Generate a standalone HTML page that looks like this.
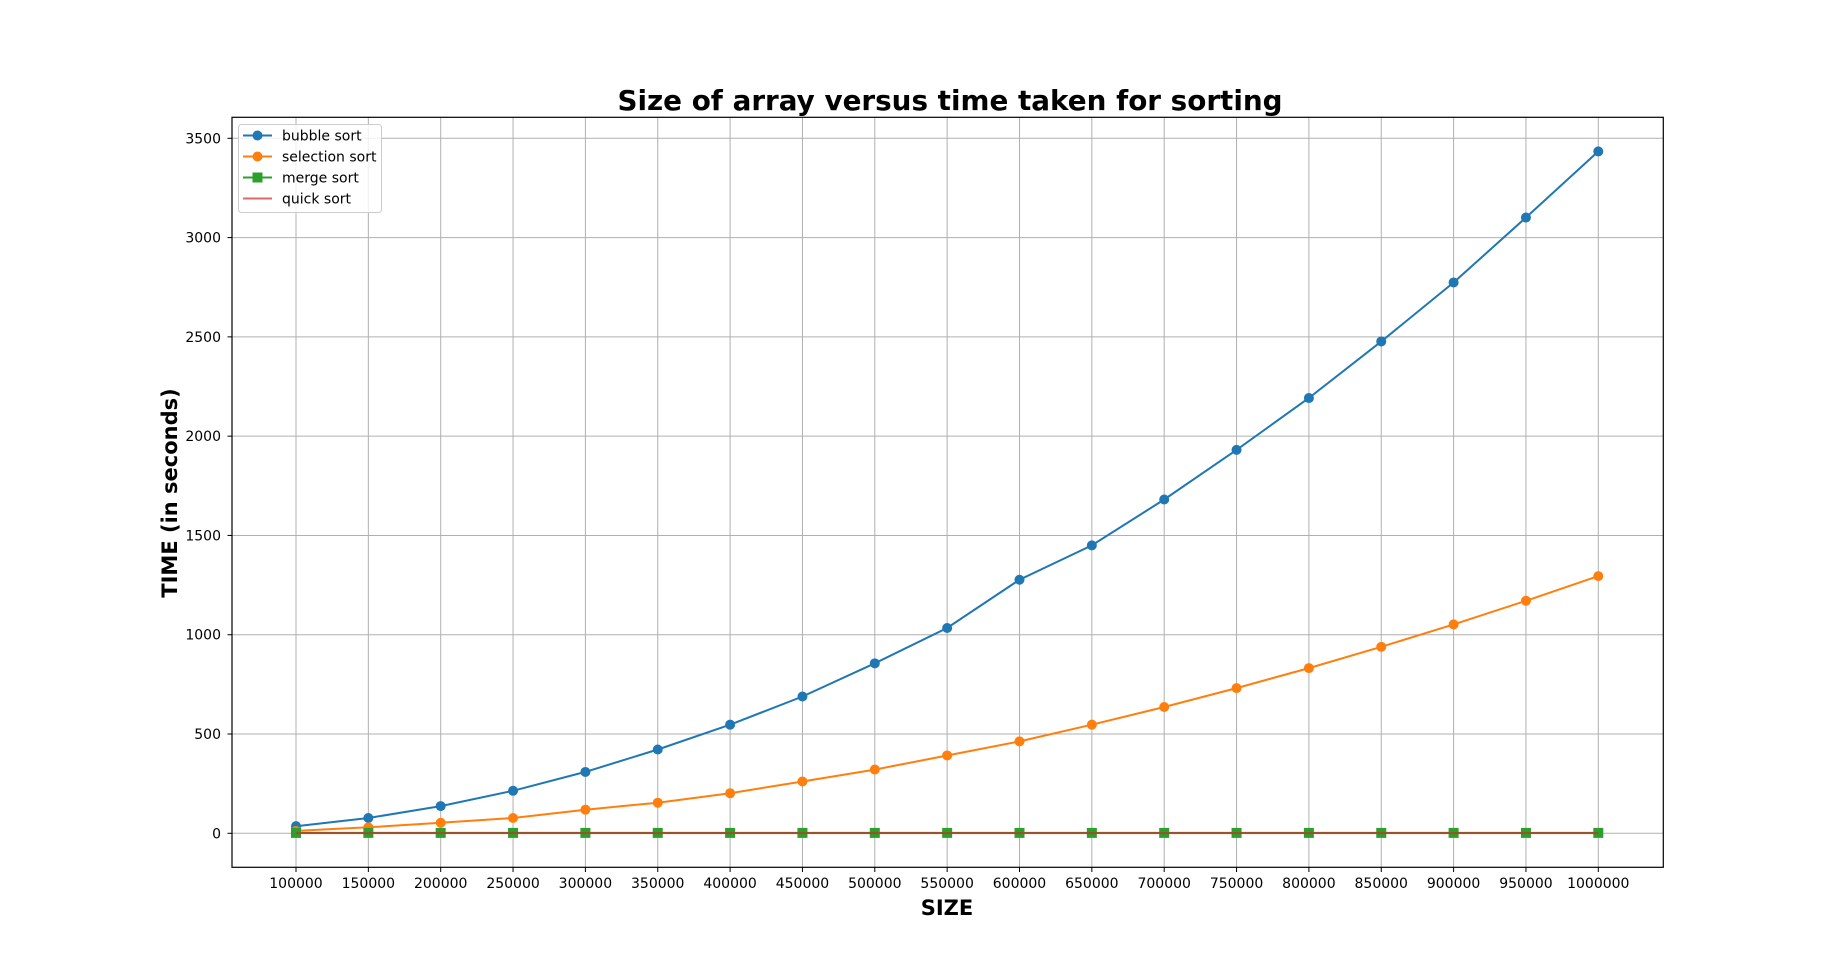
<!DOCTYPE html>
<html><head><meta charset="utf-8"><style>
html,body{margin:0;padding:0;background:#fff;}
svg{display:block;font-family:"DejaVu Sans","Liberation Sans",sans-serif;}
</style></head><body>
<svg id="chart" width="1848" height="974" viewBox="0 0 1848 974">
<rect x="0" y="0" width="1848" height="974" fill="#fff"/>
<g id="grid"></g>
<g id="series"></g>
<rect x="232" y="117.3" width="1431.3" height="750" fill="none" stroke="#000" stroke-width="1.2"/>
<g id="xticks"></g>
<g id="yticks"></g>
<text x="950" y="110" text-anchor="middle" font-size="27.8" font-weight="bold">Size of array versus time taken for sorting</text>
<text x="947" y="915" text-anchor="middle" font-size="21" font-weight="bold">SIZE</text>
<text x="0" y="0" transform="translate(177,493) rotate(-90)" text-anchor="middle" font-size="21" font-weight="bold">TIME (in seconds)</text>
<g>
<rect x="238.5" y="124.5" width="143" height="88" rx="3" fill="#fff" fill-opacity="0.8" stroke="#ccc"/>
<g><line x1="243" y1="135.5" x2="272" y2="135.5" stroke="#1f77b4" stroke-width="2"/><circle cx="257.5" cy="135.5" r="5" fill="#1f77b4"/><text x="282" y="140.5" font-size="14">bubble sort</text></g>
<g><line x1="243" y1="156.5" x2="272" y2="156.5" stroke="#ff7f0e" stroke-width="2"/><circle cx="257.5" cy="156.5" r="5" fill="#ff7f0e"/><text x="282" y="161.5" font-size="14">selection sort</text></g>
<g><line x1="243" y1="177.5" x2="272" y2="177.5" stroke="#2ca02c" stroke-width="2"/><rect x="252.5" y="172.5" width="10" height="10" fill="#2ca02c"/><text x="282" y="182.5" font-size="14">merge sort</text></g>
<g><line x1="243" y1="198.5" x2="272" y2="198.5" stroke="#d62728" stroke-opacity="0.7" stroke-width="2"/><text x="282" y="203.5" font-size="14">quick sort</text></g>
</g>
</svg>
<script>
const sizes = [100000,150000,200000,250000,300000,350000,400000,450000,500000,550000,600000,650000,700000,750000,800000,850000,900000,950000,1000000];
const bubble = [36,77,137,214,309,422,547,689,856,1034,1277,1450,1681,1931,2192,2477,2774,3101,3434];
const selection = [12,30,53,77,119,154,202,261,321,392,463,547,636,731,832,939,1052,1171,1295];
const merge = [2,2,2,2,2,2,2,2,2,2,2,2,2,2,2,2,2,2,2];
const quick = [1,1,1,1,1,1,1,1,1,1,1,1,1,1,1,1,1,1,1];
const yTicks = [0,500,1000,1500,2000,2500,3000,3500];

const NS = "http://www.w3.org/2000/svg";
const X = v => 296 + (v - 100000) * (1598.3 - 296) / 900000;
const Y = v => 833.3 - v * (833.3 - 138.3) / 3500;
function mk(tag, attrs, parent) {
  const e = document.createElementNS(NS, tag);
  for (const k in attrs) e.setAttribute(k, attrs[k]);
  parent.appendChild(e);
  return e;
}
const grid = document.getElementById('grid');
const xt = document.getElementById('xticks');
const yt = document.getElementById('yticks');
sizes.forEach(s => {
  const gl = mk('line', {x1:X(s), x2:X(s), y1:117.3, y2:867.3, stroke:'#b0b0b0', 'stroke-width':1}, grid);
  
  
  const tk = mk('line', {x1:X(s), x2:X(s), y1:867.3, y2:872, stroke:'#000', 'stroke-width':1}, xt);
  
  
  const t = mk('text', {x:X(s), y:888, 'text-anchor':'middle', 'font-size':14}, xt);
  t.textContent = s;
  
  
});
yTicks.forEach(v => {
  const gl = mk('line', {x1:232, x2:1663.3, y1:Y(v), y2:Y(v), stroke:'#b0b0b0', 'stroke-width':1}, grid);
  
  
  const tk = mk('line', {x1:227.5, x2:232, y1:Y(v), y2:Y(v), stroke:'#000', 'stroke-width':1}, yt);
  
  
  const t = mk('text', {x:221, y:Y(v)+5, 'text-anchor':'end', 'font-size':14}, yt);
  t.textContent = v;
  
  
});
const ser = document.getElementById('series');
function drawSeries(vals, color, marker, name, opacity) {
  const g = mk('g', {}, ser);
  
  
  const pts = vals.map((v, i) => X(sizes[i]).toFixed(1) + ',' + Y(v).toFixed(1)).join(' ');
  const pl = mk('polyline', {points:pts, fill:'none', stroke:color, 'stroke-width':2, 'stroke-opacity':opacity}, g);
  
  
  vals.forEach((v, i) => {
    let m;
    if (marker === 'circle') m = mk('circle', {cx:X(sizes[i]), cy:Y(v), r:5, fill:color}, g);
    else if (marker === 'square') m = mk('rect', {x:X(sizes[i])-5, y:Y(v)-5, width:10, height:10, fill:color}, g);
    else return;
    
    
  });
}
drawSeries(bubble, '#1f77b4', 'circle', 'bubble-sort-series', 1);
drawSeries(selection, '#ff7f0e', 'circle', 'selection-sort-series', 1);
drawSeries(merge, '#2ca02c', 'square', 'merge-sort-series', 1);
drawSeries(quick, '#d62728', 'none', 'quick-sort-series', 0.7);
</script>
</body></html>
